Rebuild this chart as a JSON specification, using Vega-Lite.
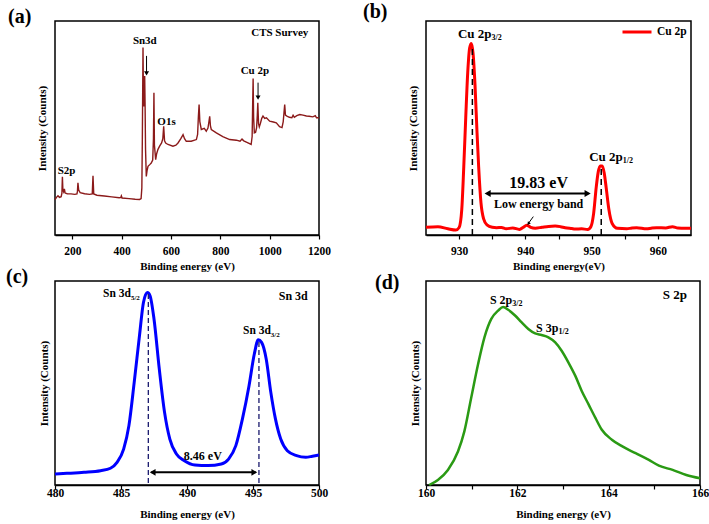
{
  "$schema": "https://vega.github.io/schema/vega-lite/v6.json",
  "padding": {"left": 5, "top": 1, "right": 5, "bottom": 2},
  "bounds": "flush",
  "columns": 2,
  "spacing": {"row": 46, "column": 107},
  "resolve": {"scale": {"color": "independent"}, "legend": {"color": "independent"}},
  "config": {
    "font": "Liberation Serif",
    "view": {"stroke": "black", "strokeWidth": 1.5},
    "axis": {"labelFont": "Liberation Serif", "labelFontWeight": "bold", "labelFontSize": 11.5, "labelColor": "black", "titleFont": "Liberation Serif", "titleFontWeight": "bold", "titleFontSize": 11, "titleColor": "black", "grid": false, "domainColor": "black", "domainWidth": 1.5, "tickColor": "black", "tickWidth": 1.2, "tickSize": 4, "labelOverlap": false},
    "axisY": {"labels": false, "ticks": false, "domain": false, "titlePadding": 8},
    "axisX": {"labelFlush": false},
    "text": {"font": "Liberation Serif", "fontWeight": "bold", "fontSize": 11, "color": "black"},
    "title": {"font": "Liberation Serif", "fontWeight": "bold", "fontSize": 20, "color": "black", "anchor": "start", "frame": "group", "baseline": "bottom", "offset": 0}
  },
  "datasets": {
    "survey": [
      {"x":130,"y":16.5},{"x":136,"y":17.6},{"x":142,"y":18.3},{"x":148,"y":17.6},{"x":155,"y":17.9},{"x":158,"y":19.5},{"x":160,"y":27.2},{"x":162,"y":21},{"x":165,"y":20.2},{"x":168,"y":21.5},{"x":171,"y":19.6},{"x":180,"y":19.3},{"x":195,"y":19.2},{"x":210,"y":19.0},{"x":219,"y":19.2},{"x":221,"y":20.5},{"x":223,"y":24.4},{"x":226,"y":21},{"x":232,"y":19.8},{"x":250,"y":19.3},{"x":270,"y":19.0},{"x":281,"y":19.2},{"x":284,"y":27.7},{"x":287,"y":19.2},{"x":300,"y":18.6},{"x":330,"y":18.2},{"x":360,"y":17.8},{"x":390,"y":17.4},{"x":397,"y":17.6},{"x":399,"y":18.3},{"x":402,"y":17.3},{"x":430,"y":17.0},{"x":455,"y":16.7},{"x":473,"y":16.6},{"x":479,"y":17},{"x":482,"y":22},{"x":484,"y":45},{"x":486.7,"y":87.6},{"x":488,"y":70},{"x":489.5,"y":60},{"x":491,"y":65},{"x":493.5,"y":74.3},{"x":495,"y":62},{"x":497,"y":40},{"x":500,"y":27.4},{"x":503,"y":30},{"x":507,"y":32.1},{"x":515,"y":33},{"x":520,"y":33.6},{"x":526,"y":35},{"x":529,"y":45},{"x":531,"y":66.5},{"x":533,"y":42},{"x":538,"y":35.2},{"x":542,"y":38},{"x":547,"y":39.9},{"x":554,"y":41.5},{"x":562,"y":43},{"x":567,"y":45},{"x":570.5,"y":50.8},{"x":574,"y":44},{"x":578.6,"y":43.0},{"x":588,"y":42.3},{"x":608,"y":41.5},{"x":620,"y":42},{"x":628.5,"y":43.0},{"x":640,"y":45},{"x":649,"y":46.9},{"x":655,"y":45},{"x":662,"y":43.8},{"x":682,"y":43.8},{"x":703,"y":44.6},{"x":708,"y":47},{"x":711,"y":55},{"x":714,"y":61.0},{"x":717,"y":53},{"x":723,"y":49.3},{"x":735,"y":49.8},{"x":743,"y":48.5},{"x":750,"y":50},{"x":754,"y":53},{"x":757,"y":55.5},{"x":760,"y":51},{"x":763.5,"y":49.3},{"x":784,"y":47.7},{"x":810,"y":46},{"x":838,"y":44.6},{"x":865,"y":44.3},{"x":880,"y":43.8},{"x":888,"y":44.8},{"x":895,"y":44},{"x":910,"y":43.2},{"x":925,"y":42.3},{"x":929,"y":46},{"x":931,"y":60},{"x":933,"y":73.1},{"x":935,"y":55},{"x":938,"y":47.7},{"x":943,"y":48},{"x":947,"y":50},{"x":950,"y":56},{"x":952,"y":61.8},{"x":955,"y":52},{"x":958,"y":50.5},{"x":962,"y":52},{"x":968,"y":54.5},{"x":973,"y":55.6},{"x":980,"y":54.5},{"x":987,"y":54.8},{"x":1000,"y":53.2},{"x":1015,"y":52.8},{"x":1027,"y":52.4},{"x":1040,"y":50.6},{"x":1050,"y":50.2},{"x":1055,"y":53},{"x":1058,"y":57},{"x":1061,"y":61.0},{"x":1064,"y":56},{"x":1070,"y":55.6},{"x":1080,"y":55},{"x":1090,"y":54.8},{"x":1095,"y":56},{"x":1100,"y":55},{"x":1110,"y":55.8},{"x":1122,"y":56.3},{"x":1135,"y":56},{"x":1149,"y":55.6},{"x":1160,"y":55.5},{"x":1175,"y":55.2},{"x":1185,"y":55.8},{"x":1190,"y":54.8},{"x":1200,"y":54.8}
    ],
    "cu": [
      {"x":925,"y":3.6},{"x":926.8,"y":3.9},{"x":928.3,"y":2.9},{"x":929.5,"y":2.3},{"x":930.0,"y":3.5},{"x":930.4,"y":12},{"x":930.7,"y":31.8},{"x":931.0,"y":55},{"x":931.3,"y":76},{"x":931.6,"y":87.6},{"x":931.85,"y":89.5},{"x":932.1,"y":85},{"x":932.4,"y":70},{"x":932.7,"y":48},{"x":932.95,"y":31.8},{"x":933.3,"y":15},{"x":933.7,"y":7.5},{"x":934.2,"y":4.7},{"x":935.0,"y":3.6},{"x":935.65,"y":3.4},{"x":936.4,"y":3.5},{"x":937.1,"y":2.9},{"x":938.1,"y":3.3},{"x":939.1,"y":2.6},{"x":939.7,"y":3.6},{"x":940.2,"y":4.6},{"x":940.8,"y":3.6},{"x":941.5,"y":3.2},{"x":942.5,"y":3.6},{"x":943.5,"y":4.0},{"x":944.5,"y":4.2},{"x":945.3,"y":3.9},{"x":946.0,"y":3.4},{"x":947.0,"y":3.0},{"x":947.5,"y":2.8},{"x":948.5,"y":2.9},{"x":949.4,"y":2.6},{"x":949.9,"y":4},{"x":950.3,"y":10},{"x":950.7,"y":22.5},{"x":951.0,"y":29.5},{"x":951.3,"y":32.3},{"x":951.6,"y":32.3},{"x":951.9,"y":29},{"x":952.2,"y":22},{"x":952.6,"y":12},{"x":953.1,"y":5.4},{"x":953.9,"y":3.1},{"x":955.3,"y":2.9},{"x":956.1,"y":3.3},{"x":956.8,"y":3.4},{"x":958.3,"y":2.9},{"x":959.0,"y":3.2},{"x":959.8,"y":3.4},{"x":961.2,"y":3.3},{"x":962.2,"y":3.9},{"x":963.0,"y":3.3},{"x":964.1,"y":3.1},{"x":965,"y":3.1}
    ],
    "sn": [
      {"x":480,"y":5.4},{"x":480.9,"y":5.7},{"x":482.2,"y":6.2},{"x":483.45,"y":7.0},{"x":484.2,"y":8.2},{"x":484.7,"y":11.1},{"x":485.2,"y":17.6},{"x":485.6,"y":29.1},{"x":486.0,"y":50.3},{"x":486.4,"y":73.2},{"x":486.7,"y":89.5},{"x":487.0,"y":94.4},{"x":487.2,"y":92.8},{"x":487.5,"y":81.4},{"x":487.9,"y":56.9},{"x":488.3,"y":35.6},{"x":488.7,"y":22.5},{"x":489.2,"y":15.2},{"x":489.8,"y":11.9},{"x":490.6,"y":9.8},{"x":491.6,"y":9.5},{"x":492.6,"y":10.3},{"x":493.15,"y":12.7},{"x":493.7,"y":19.3},{"x":494.2,"y":32.4},{"x":494.7,"y":48.7},{"x":495.1,"y":64.2},{"x":495.4,"y":71.2},{"x":495.65,"y":69.9},{"x":496.0,"y":61.8},{"x":496.35,"y":45.4},{"x":496.7,"y":32.4},{"x":497.1,"y":22.5},{"x":497.6,"y":16.8},{"x":498.3,"y":14.4},{"x":499.0,"y":13.6},{"x":499.5,"y":14.1},{"x":500,"y":14.7}
    ],
    "s": [
      {"x":160.07,"y":0},{"x":160.26,"y":2.5},{"x":160.48,"y":7.4},{"x":160.7,"y":16.4},{"x":160.84,"y":26.3},{"x":160.99,"y":42.8},{"x":161.14,"y":59.2},{"x":161.28,"y":72.4},{"x":161.43,"y":81.4},{"x":161.58,"y":85.5},{"x":161.69,"y":87.2},{"x":161.8,"y":85.9},{"x":161.95,"y":83.1},{"x":162.09,"y":79.8},{"x":162.24,"y":76.5},{"x":162.39,"y":74.3},{"x":162.53,"y":73.5},{"x":162.68,"y":72.4},{"x":162.83,"y":69.9},{"x":162.97,"y":65.8},{"x":163.12,"y":60.0},{"x":163.27,"y":53.5},{"x":163.41,"y":46.1},{"x":163.56,"y":39.5},{"x":163.71,"y":32.9},{"x":163.85,"y":27.1},{"x":164.07,"y":22.2},{"x":164.3,"y":18.9},{"x":164.59,"y":15.6},{"x":164.88,"y":12.3},{"x":165.1,"y":9.5},{"x":165.4,"y":7.4},{"x":165.7,"y":4.9},{"x":166,"y":3.3}
    ]
  },
  "concat": [
    {
      "width": 264, "height": 214,
      "title": {"text": "(a)", "dx": -47, "offset": -6},
      "layer": [
        {
          "data": {"name": "survey"},
          "mark": {"type": "line", "color": "#8b1a1a", "strokeWidth": 1.4},
          "encoding": {
            "x": {"field": "x", "type": "quantitative", "scale": {"domain": [130, 1200], "nice": false, "zero": false},
                  "axis": {"title": "Binding energy (eV)", "values": [200,300,400,500,600,700,800,900,1000,1100,1200], "format": "d", "labelExpr": "datum.value % 200 == 0 ? datum.label : ''", "labelPadding": 6, "titlePadding": 4}},
            "y": {"field": "y", "type": "quantitative", "scale": {"domain": [0, 100], "nice": false}, "axis": {"title": "Intensity (Counts)"}}
          }
        },
        {
          "data": {"values": [{"x": 501, "y": 83.7, "y2": 75.5}, {"x": 953, "y": 71.2, "y2": 64.2}]},
          "mark": {"type": "rule", "color": "black", "strokeWidth": 1},
          "encoding": {"x": {"field": "x", "type": "quantitative"}, "y": {"field": "y", "type": "quantitative"}, "y2": {"field": "y2"}}
        },
        {
          "data": {"values": [{"x": 501, "y": 75.5}, {"x": 953, "y": 64.2}]},
          "mark": {"type": "point", "shape": "triangle-down", "filled": true, "color": "black", "size": 25, "opacity": 1},
          "encoding": {"x": {"field": "x", "type": "quantitative"}, "y": {"field": "y", "type": "quantitative"}}
        },
        {
          "data": {"values": [{"x": 494, "y": 90.8, "t": "Sn3d"}, {"x": 177, "y": 29.7, "t": "S2p"}, {"x": 582, "y": 52.7, "t": "O1s"}, {"x": 940, "y": 76.7, "t": "Cu 2p"}, {"x": 1041, "y": 94.2, "t": "CTS Survey"}]},
          "mark": {"type": "text", "baseline": "middle"},
          "encoding": {"x": {"field": "x", "type": "quantitative"}, "y": {"field": "y", "type": "quantitative"}, "text": {"field": "t"}}
        }
      ]
    },
    {
      "width": 265, "height": 214,
      "title": {"text": "(b)", "dx": -63, "offset": -6},
      "layer": [
        {
          "data": {"name": "cu"},
          "mark": {"type": "line", "strokeWidth": 3, "interpolate": "monotone"},
          "encoding": {
            "x": {"field": "x", "type": "quantitative", "scale": {"domain": [925, 965], "nice": false, "zero": false},
                  "axis": {"title": "Binding energy(eV)", "values": [930,935,940,945,950,955,960], "labelExpr": "datum.value % 10 == 0 ? datum.label : ''", "labelPadding": 6, "titlePadding": 4}},
            "y": {"field": "y", "type": "quantitative", "scale": {"domain": [0, 100], "nice": false}, "axis": {"title": "Intensity (Counts)"}},
            "color": {"datum": "Cu 2p", "type": "nominal", "scale": {"range": ["#ff0000"]},
                      "legend": {"title": null, "orient": "none", "legendX": 195, "legendY": -5, "padding": 0, "symbolType": "stroke", "symbolSize": 841, "symbolStrokeWidth": 3, "labelFont": "Liberation Serif", "labelFontWeight": "bold", "labelFontSize": 11.5, "labelColor": "black", "labelOffset": 4}}
          }
        },
        {
          "data": {"values": [{"x": 932.0, "y": 0, "y2": 88}, {"x": 951.45, "y": 0, "y2": 31.5}]},
          "mark": {"type": "rule", "color": "black", "strokeWidth": 1.5, "strokeDash": [6, 4]},
          "encoding": {"x": {"field": "x", "type": "quantitative"}, "y": {"field": "y", "type": "quantitative"}, "y2": {"field": "y2"}}
        },
        {
          "data": {"values": [{"x": 934.2, "x2": 949.5, "y": 19.4}]},
          "mark": {"type": "rule", "color": "black", "strokeWidth": 2},
          "encoding": {"x": {"field": "x", "type": "quantitative"}, "x2": {"field": "x2"}, "y": {"field": "y", "type": "quantitative"}}
        },
        {
          "data": {"values": [{"x": 934.3, "y": 19.4}]},
          "mark": {"type": "point", "shape": "triangle-left", "filled": true, "color": "black", "size": 50, "opacity": 1},
          "encoding": {"x": {"field": "x", "type": "quantitative"}, "y": {"field": "y", "type": "quantitative"}}
        },
        {
          "data": {"values": [{"x": 949.4, "y": 19.4}]},
          "mark": {"type": "point", "shape": "triangle-right", "filled": true, "color": "black", "size": 50, "opacity": 1},
          "encoding": {"x": {"field": "x", "type": "quantitative"}, "y": {"field": "y", "type": "quantitative"}}
        },
        {
          "data": {"values": [{"x": 941.2, "x2": 940.5, "y": 8.6, "y2": 5.6}]},
          "mark": {"type": "rule", "color": "black", "strokeWidth": 1},
          "encoding": {"x": {"field": "x", "type": "quantitative"}, "x2": {"field": "x2"}, "y": {"field": "y", "type": "quantitative"}, "y2": {"field": "y2"}}
        },
        {
          "data": {"values": [{"x": 940.45, "y": 5.3}]},
          "mark": {"type": "point", "shape": "triangle-down", "filled": true, "color": "black", "size": 14, "angle": 40, "opacity": 1},
          "encoding": {"x": {"field": "x", "type": "quantitative"}, "y": {"field": "y", "type": "quantitative"}}
        },
        {
          "data": {"values": [{"x": 934.9, "y": 93.8, "t": "Cu 2p"}, {"x": 954.7, "y": 36.4, "t": "Cu 2p"}]},
          "mark": {"type": "text", "align": "right", "baseline": "middle", "fontSize": 13},
          "encoding": {"x": {"field": "x", "type": "quantitative"}, "y": {"field": "y", "type": "quantitative"}, "text": {"field": "t"}}
        },
        {
          "data": {"values": [{"x": 934.9, "y": 93.8, "t": "3/2"}, {"x": 954.7, "y": 36.4, "t": "1/2"}]},
          "mark": {"type": "text", "align": "left", "baseline": "middle", "fontSize": 8, "dy": 4},
          "encoding": {"x": {"field": "x", "type": "quantitative"}, "y": {"field": "y", "type": "quantitative"}, "text": {"field": "t"}}
        },
        {
          "data": {"values": [{"x": 942.0, "y": 24.5, "t": "19.83 eV"}]},
          "mark": {"type": "text", "baseline": "middle", "fontSize": 16},
          "encoding": {"x": {"field": "x", "type": "quantitative"}, "y": {"field": "y", "type": "quantitative"}, "text": {"field": "t"}}
        },
        {
          "data": {"values": [{"x": 942.0, "y": 14.4, "t": "Low energy band"}]},
          "mark": {"type": "text", "baseline": "middle", "fontSize": 12},
          "encoding": {"x": {"field": "x", "type": "quantitative"}, "y": {"field": "y", "type": "quantitative"}, "text": {"field": "t"}}
        }
      ]
    },
    {
      "width": 264, "height": 204,
      "title": {"text": "(c)", "dx": -49, "offset": -6},
      "layer": [
        {
          "data": {"name": "sn"},
          "mark": {"type": "line", "color": "#0000ff", "strokeWidth": 3, "interpolate": "monotone"},
          "encoding": {
            "x": {"field": "x", "type": "quantitative", "scale": {"domain": [480, 500], "nice": false, "zero": false},
                  "axis": {"title": "Binding energy (eV)", "values": [480,482.5,485,487.5,490,492.5,495,497.5,500], "labelExpr": "datum.value % 5 == 0 ? datum.label : ''", "labelPadding": -2, "titlePadding": 10}},
            "y": {"field": "y", "type": "quantitative", "scale": {"domain": [0, 100], "nice": false}, "axis": {"title": "Intensity (Counts)", "titlePadding": 6}}
          }
        },
        {
          "data": {"values": [{"x": 487.07, "y": 1, "y2": 94}, {"x": 495.45, "y": 1, "y2": 71}]},
          "mark": {"type": "rule", "color": "#1a1a6e", "strokeWidth": 1.3, "strokeDash": [5, 3]},
          "encoding": {"x": {"field": "x", "type": "quantitative"}, "y": {"field": "y", "type": "quantitative"}, "y2": {"field": "y2"}}
        },
        {
          "data": {"values": [{"x": 487.3, "x2": 495.2, "y": 6.2}]},
          "mark": {"type": "rule", "color": "black", "strokeWidth": 2},
          "encoding": {"x": {"field": "x", "type": "quantitative"}, "x2": {"field": "x2"}, "y": {"field": "y", "type": "quantitative"}}
        },
        {
          "data": {"values": [{"x": 487.4, "y": 6.2}]},
          "mark": {"type": "point", "shape": "triangle-left", "filled": true, "color": "black", "size": 45, "opacity": 1},
          "encoding": {"x": {"field": "x", "type": "quantitative"}, "y": {"field": "y", "type": "quantitative"}}
        },
        {
          "data": {"values": [{"x": 495.1, "y": 6.2}]},
          "mark": {"type": "point", "shape": "triangle-right", "filled": true, "color": "black", "size": 45, "opacity": 1},
          "encoding": {"x": {"field": "x", "type": "quantitative"}, "y": {"field": "y", "type": "quantitative"}}
        },
        {
          "data": {"values": [{"x": 485.75, "y": 93.6, "t": "Sn 3d"}, {"x": 496.35, "y": 75.7, "t": "Sn 3d"}]},
          "mark": {"type": "text", "align": "right", "baseline": "middle", "fontSize": 11.5},
          "encoding": {"x": {"field": "x", "type": "quantitative"}, "y": {"field": "y", "type": "quantitative"}, "text": {"field": "t"}}
        },
        {
          "data": {"values": [{"x": 485.75, "y": 93.6, "t": "5/2"}, {"x": 496.35, "y": 75.7, "t": "3/2"}]},
          "mark": {"type": "text", "align": "left", "baseline": "middle", "fontSize": 7, "dy": 4},
          "encoding": {"x": {"field": "x", "type": "quantitative"}, "y": {"field": "y", "type": "quantitative"}, "text": {"field": "t"}}
        },
        {
          "data": {"values": [{"x": 498.05, "y": 92.8, "t": "Sn 3d"}, {"x": 491.2, "y": 14.4, "t": "8.46 eV"}]},
          "mark": {"type": "text", "baseline": "middle", "fontSize": 12},
          "encoding": {"x": {"field": "x", "type": "quantitative"}, "y": {"field": "y", "type": "quantitative"}, "text": {"field": "t"}}
        }
      ]
    },
    {
      "width": 274, "height": 204,
      "title": {"text": "(d)", "dx": -51, "offset": -12},
      "layer": [
        {
          "data": {"name": "s"},
          "mark": {"type": "line", "color": "#2a9a14", "strokeWidth": 2.5, "interpolate": "monotone"},
          "encoding": {
            "x": {"field": "x", "type": "quantitative", "scale": {"domain": [160, 166], "nice": false, "zero": false},
                  "axis": {"title": "Binding energy (eV)", "values": [160,161,162,163,164,165,166], "labelExpr": "datum.value % 2 == 0 ? datum.label : ''", "labelPadding": -2, "titlePadding": 10}},
            "y": {"field": "y", "type": "quantitative", "scale": {"domain": [0, 100], "nice": false}, "axis": {"title": "Intensity (Counts)", "titlePadding": 6}}
          }
        },
        {
          "data": {"values": [{"x": 161.89, "y": 90.5, "t": "S 2p"}, {"x": 162.9, "y": 77.0, "t": "S 3p"}]},
          "mark": {"type": "text", "align": "right", "baseline": "middle", "fontSize": 12},
          "encoding": {"x": {"field": "x", "type": "quantitative"}, "y": {"field": "y", "type": "quantitative"}, "text": {"field": "t"}}
        },
        {
          "data": {"values": [{"x": 161.89, "y": 90.5, "t": "3/2"}, {"x": 162.9, "y": 77.0, "t": "1/2"}]},
          "mark": {"type": "text", "align": "left", "baseline": "middle", "fontSize": 8, "dy": 4},
          "encoding": {"x": {"field": "x", "type": "quantitative"}, "y": {"field": "y", "type": "quantitative"}, "text": {"field": "t"}}
        },
        {
          "data": {"values": [{"x": 165.45, "y": 92.9, "t": "S 2p"}]},
          "mark": {"type": "text", "baseline": "middle", "fontSize": 13},
          "encoding": {"x": {"field": "x", "type": "quantitative"}, "y": {"field": "y", "type": "quantitative"}, "text": {"field": "t"}}
        }
      ]
    }
  ]
}
